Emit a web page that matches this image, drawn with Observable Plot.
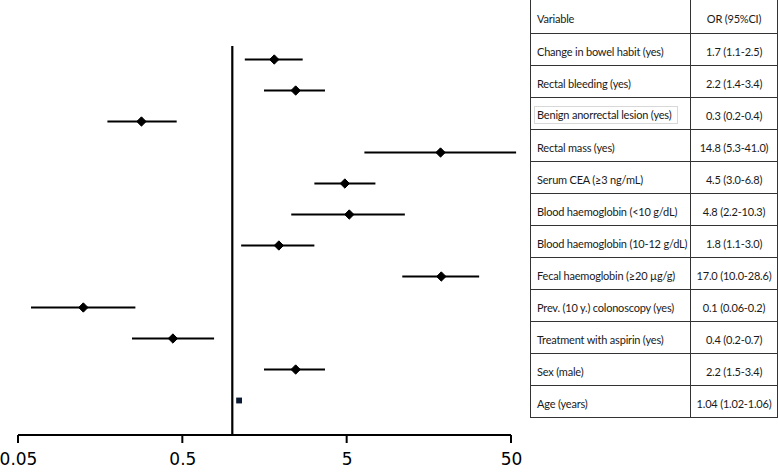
<!DOCTYPE html>
<html>
<head>
<meta charset="utf-8">
<script src="https://cdn.jsdelivr.net/npm/d3@7"></script>
<script src="https://cdn.jsdelivr.net/npm/@observablehq/plot@0.6"></script>
<style>
  html, body { margin: 0; padding: 0; background: #fff; }
  #wrap { position: relative; width: 778px; height: 473px; overflow: hidden; }
  #chart { position: absolute; left: 0; top: 0; }
  #table {
    position: absolute; left: 530px; top: 0;
    display: grid; grid-template-columns: 160px 87px;
    grid-template-rows: 34px repeat(12, 32px);
    border-left: 1px solid #333;
    font-family: Lato, "Open Sans", sans-serif; font-size: 11px; letter-spacing: -0.2px; color: #1a1a1a;
  }
  #table div.c {
    box-sizing: border-box; border-right: 1px solid #333; border-bottom: 1px solid #333;
    display: flex; align-items: center; padding: 3px 0 0 6px; white-space: nowrap;
  }
  #table div.c.v { justify-content: center; padding-left: 0; }
  #table span.box { display: inline-block; box-sizing: border-box; width: 144px; height: 18px;
    border: 1px solid #d8d8d8; margin-left: -3px; padding-left: 2px; line-height: 16px; }
</style>
</head>
<body>
<div id="wrap">
  <div id="chart"></div>
  <div id="table"></div>
</div>
<script>
const variables = [
  "Change in bowel habit (yes)",
  "Rectal bleeding (yes)",
  "Benign anorrectal lesion (yes)",
  "Rectal mass (yes)",
  "Serum CEA (≥3 ng/mL)",
  "Blood haemoglobin (<10 g/dL)",
  "Blood haemoglobin (10-12 g/dL)",
  "Fecal haemoglobin (≥20 µg/g)",
  "Prev. (10 y.) colonoscopy (yes)",
  "Treatment with aspirin (yes)",
  "Sex (male)",
  "Age (years)"
];
const orLabels = [
  "1.7 (1.1-2.5)", "2.2 (1.4-3.4)", "0.3 (0.2-0.4)", "14.8 (5.3-41.0)",
  "4.5 (3.0-6.8)", "4.8 (2.2-10.3)", "1.8 (1.1-3.0)", "17.0 (10.0-28.6)",
  "0.1 (0.06-0.2)", "0.4 (0.2-0.7)", "2.2 (1.5-3.4)", "1.04 (1.02-1.06)"
];
// values as drawn in the plot
const estimate = [1.80, 2.43, 0.280, 18.5, 4.84, 5.15, 1.92, 18.7, 0.124, 0.435, 2.43, 1.10];
const lower    = [1.20, 1.57, 0.175, 6.41, 3.18, 2.30, 1.14, 10.9, 0.060, 0.247, 1.57, 1.08];
const upper    = [2.70, 3.69, 0.462, 53.7, 7.48, 11.3, 3.18, 32.0, 0.259, 0.780, 3.69, 1.12];
const xTicks = [0.05, 0.5, 5, 50];
const xTickLabels = ["0.05", "0.5", "5", "50"];
const referenceOR = 1;

const rows = variables.map((v, i) => ({variable: v, est: estimate[i], lo: lower[i], hi: upper[i], label: orLabels[i], square: i === variables.length - 1}));
const tickRows = xTicks.map((t, i) => ({value: t, label: xTickLabels[i]}));

// axis baseline and tick marks, positioned through Plot's x scale
const axisMark = (index, scales, values, dimensions) => {
  const ns = "http://www.w3.org/2000/svg";
  const y = dimensions.height - dimensions.marginBottom;
  const g = document.createElementNS(ns, "g");
  g.setAttribute("stroke", "#000"); g.setAttribute("stroke-width", 2);
  const add = (x1, y1, x2, y2) => {
    const l = document.createElementNS(ns, "line");
    l.setAttribute("x1", x1); l.setAttribute("y1", y1);
    l.setAttribute("x2", x2); l.setAttribute("y2", y2);
    g.appendChild(l);
  };
  add(scales.x(xTicks[0]), y, scales.x(xTicks[xTicks.length - 1]), y);
  xTicks.forEach(t => add(scales.x(t), y, scales.x(t), y + 8));
  return g;
};

const plot = Plot.plot({
  width: 778,
  height: 473,
  marginLeft: 18,
  marginRight: 267,
  marginTop: 46,
  marginBottom: 38,
  style: {fontFamily: "DejaVu Sans", fontSize: "17px", color: "#000", background: "transparent", overflow: "visible"},
  x: {type: "log", domain: [xTicks[0], xTicks[xTicks.length - 1]], axis: null},
  y: {type: "point", domain: variables, padding: 0, insetTop: 8, insetBottom: 30, axis: null},
  marks: [
    Plot.ruleX([referenceOR], {stroke: "#000", strokeWidth: 2.2}),
    axisMark,
    Plot.text(tickRows, {x: "value", text: "label", frameAnchor: "bottom", dy: 29, fill: "#000", fontSize: 17, fontFamily: "DejaVu Sans"}),
    Plot.ruleY(rows, {y: "variable", x1: "lo", x2: "hi", stroke: "#000", strokeWidth: 2}),
    Plot.dot(rows.filter(d => !d.square), {x: "est", y: "variable", symbol: "diamond2", fill: "#000", stroke: "#000", strokeWidth: 1, r: 4.2}),
    Plot.dot(rows.filter(d => d.square), {x: "est", y: "variable", symbol: "square", fill: "#0c1a33", r: 3.3})
  ]
});
document.getElementById("chart").appendChild(plot);

const table = document.getElementById("table");
function cell(text, cls, boxed) {
  const d = document.createElement("div");
  d.className = "c" + (cls ? " " + cls : "");
  if (boxed) { const s = document.createElement("span"); s.className = "box"; s.textContent = text; d.appendChild(s); }
  else d.textContent = text;
  table.appendChild(d);
}
cell("Variable"); cell("OR (95%CI)", "v");
variables.forEach((v, i) => { cell(v, "", v.startsWith("Benign")); cell(orLabels[i], "v"); });
</script>
</body>
</html>
